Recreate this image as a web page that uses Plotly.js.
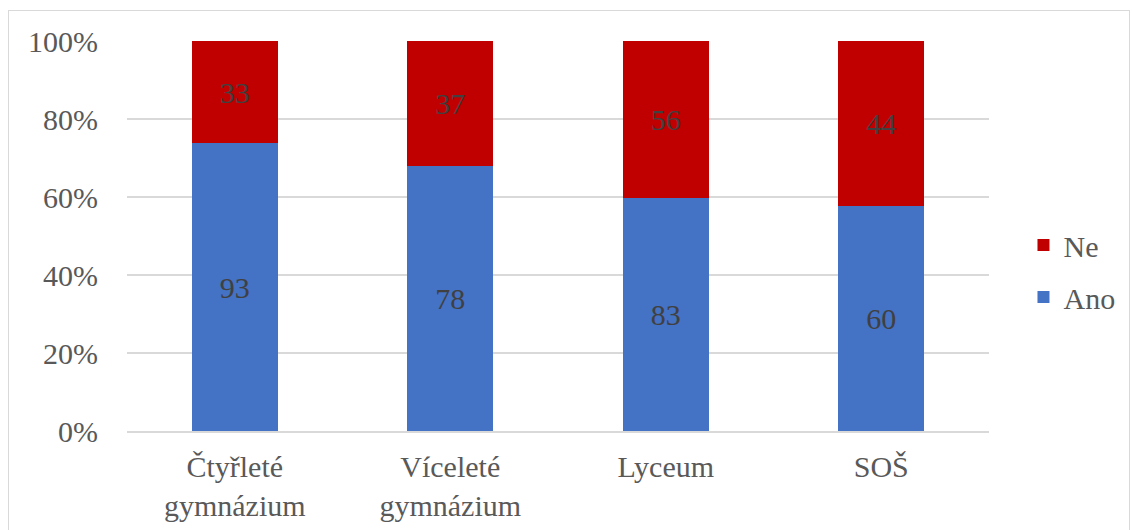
<!DOCTYPE html>
<html>
<head>
<meta charset="utf-8">
<script src="https://cdn.plot.ly/plotly-3.0.1.min.js"></script>
<style>
  html, body { margin: 0; padding: 0; background: #fff; width: 1132px; height: 530px; overflow: hidden; }
  #frame { position: absolute; left: 8px; top: 10px; width: 1122px; height: 540px; border: 1px solid #d9d9d9; box-sizing: border-box; pointer-events: none; z-index: 5; }
  #chart { position: absolute; left: 0; top: 0; width: 1132px; height: 530px; }
</style>
</head>
<body>
<div id="chart"></div>
<div id="frame"></div>
<script>
const categories = ["Čtyřleté<br>gymnázium", "Víceleté<br>gymnázium", "Lyceum", "SOŠ"];
const anoValues = [93, 78, 83, 60];
const neValues = [33, 37, 56, 44];
const yTickVals = [0, 20, 40, 60, 80, 100];

const FONT = "Liberation Serif, serif";

const traces = [
  {
    type: "bar", name: "Ano", x: categories, y: anoValues,
    text: anoValues.map(String), textposition: "inside", insidetextanchor: "middle",
    textangle: 0, constraintext: "none",
    textfont: { family: FONT, size: 30, color: "#404040" },
    marker: { color: "#4472C4" }, legendgroup: "ano", legendrank: 2, hoverinfo: "none"
  },
  {
    type: "bar", name: "Ne", x: categories, y: neValues,
    text: neValues.map(String), textposition: "inside", insidetextanchor: "middle",
    textangle: 0, constraintext: "none",
    textfont: { family: FONT, size: 30, color: "#404040" },
    marker: { color: "#C00000" }, legendgroup: "ne", legendrank: 1, hoverinfo: "none"
  }
];

const layout = {
  width: 1132, height: 530,
  margin: { l: 127, r: 139, t: 41, b: 99 },
  paper_bgcolor: "#ffffff", plot_bgcolor: "#ffffff",
  barmode: "stack", barnorm: "percent", bargap: 0.6,
  font: { family: FONT, size: 30, color: "#595959" },
  xaxis: {
    type: "category", showgrid: false, showline: true, linecolor: "#d9d9d9", linewidth: 2,
    ticks: "", ticklabelstandoff: 8, tickfont: { family: FONT, size: 30, color: "#595959" }
  },
  yaxis: {
    range: [0, 100], tickvals: yTickVals, ticktext: yTickVals.map(v => v + "%"),
    showgrid: true, gridcolor: "#d9d9d9", gridwidth: 2, zeroline: false, showline: false,
    ticks: "", ticklabelstandoff: 28, tickfont: { family: FONT, size: 30, color: "#595959" }
  },
  showlegend: true,
  legend: {
    x: 1.04, xanchor: "left", y: 0.41, yanchor: "middle",
    traceorder: "grouped", tracegroupgap: 10,
    font: { family: FONT, size: 30, color: "#595959" },
    bgcolor: "rgba(0,0,0,0)"
  }
};

Plotly.newPlot("chart", traces, layout, { staticPlot: true, displayModeBar: false });
</script>
</body>
</html>
